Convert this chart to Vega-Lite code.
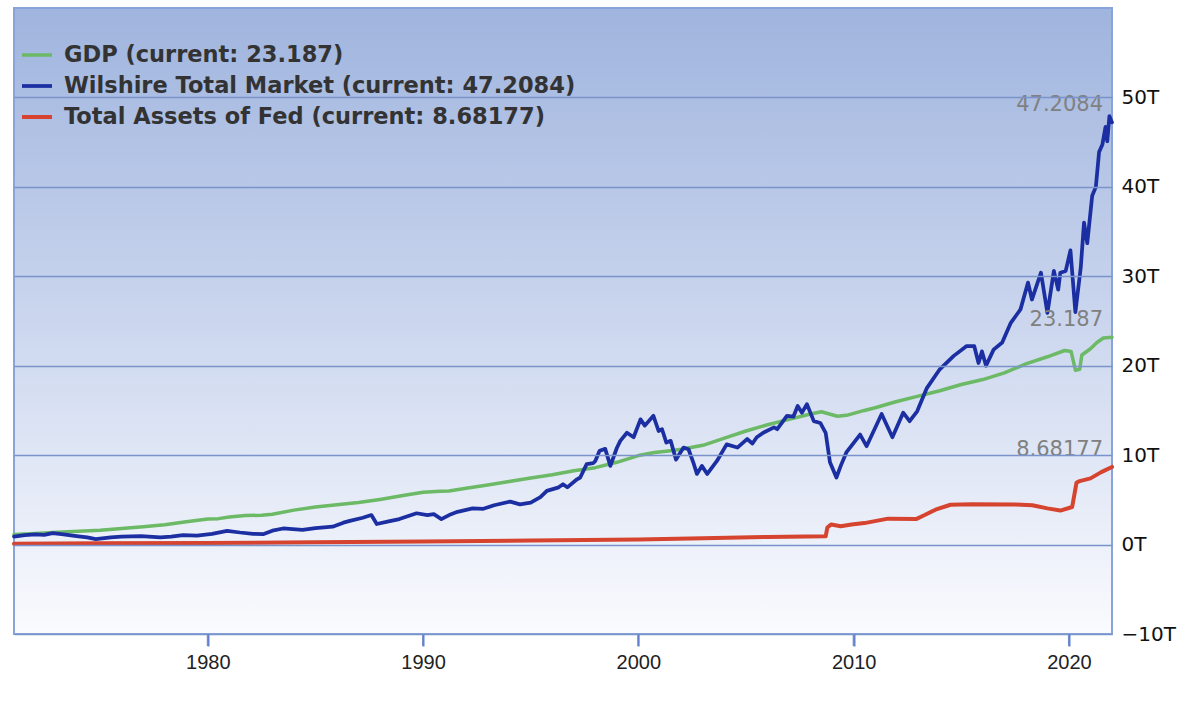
{
  "$schema": "https://vega.github.io/schema/vega-lite/v6.json",
  "width": 1098,
  "height": 626,
  "autosize": {"type": "none"},
  "padding": {"left": 14, "top": 8, "right": 90, "bottom": 72},
  "background": "white",
  "config": {
    "view": {"stroke": null},
    "legend": {"padding": 0},
    "axisX": {"ticks": true, "tickColor": "#6482cc", "tickSize": 12, "tickWidth": 2, "tickOpacity": 1, "domain": false, "grid": false}
  },
  "data": {
    "values": [
      {"s": "GDP", "year": 1971.0, "value": 1.12},
      {"s": "GDP", "year": 1972.0, "value": 1.23},
      {"s": "GDP", "year": 1973.0, "value": 1.38},
      {"s": "GDP", "year": 1974.0, "value": 1.5},
      {"s": "GDP", "year": 1975.0, "value": 1.6},
      {"s": "GDP", "year": 1976.0, "value": 1.8},
      {"s": "GDP", "year": 1977.0, "value": 1.99},
      {"s": "GDP", "year": 1978.0, "value": 2.22},
      {"s": "GDP", "year": 1979.0, "value": 2.55},
      {"s": "GDP", "year": 1980.0, "value": 2.85},
      {"s": "GDP", "year": 1980.5, "value": 2.9},
      {"s": "GDP", "year": 1981.0, "value": 3.08},
      {"s": "GDP", "year": 1981.75, "value": 3.24},
      {"s": "GDP", "year": 1982.5, "value": 3.28},
      {"s": "GDP", "year": 1983.0, "value": 3.4},
      {"s": "GDP", "year": 1984.0, "value": 3.85},
      {"s": "GDP", "year": 1985.0, "value": 4.2},
      {"s": "GDP", "year": 1986.0, "value": 4.45},
      {"s": "GDP", "year": 1987.0, "value": 4.7},
      {"s": "GDP", "year": 1988.0, "value": 5.05},
      {"s": "GDP", "year": 1989.0, "value": 5.45},
      {"s": "GDP", "year": 1990.0, "value": 5.85},
      {"s": "GDP", "year": 1990.8, "value": 5.97},
      {"s": "GDP", "year": 1991.2, "value": 6.0},
      {"s": "GDP", "year": 1992.0, "value": 6.3},
      {"s": "GDP", "year": 1993.0, "value": 6.65},
      {"s": "GDP", "year": 1994.0, "value": 7.05},
      {"s": "GDP", "year": 1995.0, "value": 7.45},
      {"s": "GDP", "year": 1996.0, "value": 7.8},
      {"s": "GDP", "year": 1997.0, "value": 8.25},
      {"s": "GDP", "year": 1998.0, "value": 8.6},
      {"s": "GDP", "year": 1999.0, "value": 9.2},
      {"s": "GDP", "year": 2000.0, "value": 9.95},
      {"s": "GDP", "year": 2000.75, "value": 10.3},
      {"s": "GDP", "year": 2001.5, "value": 10.5},
      {"s": "GDP", "year": 2002.0, "value": 10.65},
      {"s": "GDP", "year": 2003.0, "value": 11.1},
      {"s": "GDP", "year": 2004.0, "value": 11.9},
      {"s": "GDP", "year": 2005.0, "value": 12.7},
      {"s": "GDP", "year": 2006.0, "value": 13.4},
      {"s": "GDP", "year": 2007.0, "value": 14.0},
      {"s": "GDP", "year": 2008.0, "value": 14.6},
      {"s": "GDP", "year": 2008.5, "value": 14.85},
      {"s": "GDP", "year": 2009.25, "value": 14.35},
      {"s": "GDP", "year": 2009.75, "value": 14.5},
      {"s": "GDP", "year": 2010.5, "value": 15.0},
      {"s": "GDP", "year": 2011.0, "value": 15.3},
      {"s": "GDP", "year": 2012.0, "value": 16.0},
      {"s": "GDP", "year": 2013.0, "value": 16.6},
      {"s": "GDP", "year": 2014.0, "value": 17.2},
      {"s": "GDP", "year": 2015.0, "value": 17.9},
      {"s": "GDP", "year": 2016.0, "value": 18.45},
      {"s": "GDP", "year": 2017.0, "value": 19.2},
      {"s": "GDP", "year": 2018.0, "value": 20.2},
      {"s": "GDP", "year": 2019.0, "value": 21.0},
      {"s": "GDP", "year": 2019.8, "value": 21.7},
      {"s": "GDP", "year": 2020.1, "value": 21.6},
      {"s": "GDP", "year": 2020.3, "value": 19.5},
      {"s": "GDP", "year": 2020.5, "value": 19.6},
      {"s": "GDP", "year": 2020.6, "value": 21.2},
      {"s": "GDP", "year": 2021.0, "value": 21.9},
      {"s": "GDP", "year": 2021.3, "value": 22.6},
      {"s": "GDP", "year": 2021.6, "value": 23.1},
      {"s": "GDP", "year": 2022.0, "value": 23.187},

      {"s": "Wilshire Total Market", "year": 1971.0, "value": 0.9},
      {"s": "Wilshire Total Market", "year": 1971.5, "value": 1.05},
      {"s": "Wilshire Total Market", "year": 1972.0, "value": 1.15},
      {"s": "Wilshire Total Market", "year": 1972.4, "value": 1.08},
      {"s": "Wilshire Total Market", "year": 1972.8, "value": 1.28},
      {"s": "Wilshire Total Market", "year": 1973.3, "value": 1.15},
      {"s": "Wilshire Total Market", "year": 1973.9, "value": 0.95},
      {"s": "Wilshire Total Market", "year": 1974.4, "value": 0.8},
      {"s": "Wilshire Total Market", "year": 1974.8, "value": 0.6},
      {"s": "Wilshire Total Market", "year": 1975.5, "value": 0.8},
      {"s": "Wilshire Total Market", "year": 1976.0, "value": 0.9},
      {"s": "Wilshire Total Market", "year": 1976.9, "value": 0.95},
      {"s": "Wilshire Total Market", "year": 1977.8, "value": 0.8},
      {"s": "Wilshire Total Market", "year": 1978.3, "value": 0.88},
      {"s": "Wilshire Total Market", "year": 1978.85, "value": 1.06},
      {"s": "Wilshire Total Market", "year": 1979.5, "value": 1.0},
      {"s": "Wilshire Total Market", "year": 1980.2, "value": 1.2},
      {"s": "Wilshire Total Market", "year": 1980.9, "value": 1.54},
      {"s": "Wilshire Total Market", "year": 1981.5, "value": 1.35},
      {"s": "Wilshire Total Market", "year": 1982.1, "value": 1.2},
      {"s": "Wilshire Total Market", "year": 1982.6, "value": 1.17},
      {"s": "Wilshire Total Market", "year": 1983.0, "value": 1.55},
      {"s": "Wilshire Total Market", "year": 1983.5, "value": 1.8},
      {"s": "Wilshire Total Market", "year": 1984.4, "value": 1.65},
      {"s": "Wilshire Total Market", "year": 1985.0, "value": 1.85},
      {"s": "Wilshire Total Market", "year": 1985.8, "value": 2.0},
      {"s": "Wilshire Total Market", "year": 1986.3, "value": 2.45},
      {"s": "Wilshire Total Market", "year": 1986.6, "value": 2.65},
      {"s": "Wilshire Total Market", "year": 1987.2, "value": 3.0},
      {"s": "Wilshire Total Market", "year": 1987.6, "value": 3.3},
      {"s": "Wilshire Total Market", "year": 1987.85, "value": 2.3},
      {"s": "Wilshire Total Market", "year": 1988.4, "value": 2.6},
      {"s": "Wilshire Total Market", "year": 1988.9, "value": 2.85},
      {"s": "Wilshire Total Market", "year": 1989.7, "value": 3.5},
      {"s": "Wilshire Total Market", "year": 1990.2, "value": 3.3},
      {"s": "Wilshire Total Market", "year": 1990.5, "value": 3.4},
      {"s": "Wilshire Total Market", "year": 1990.85, "value": 2.85},
      {"s": "Wilshire Total Market", "year": 1991.3, "value": 3.4},
      {"s": "Wilshire Total Market", "year": 1991.6, "value": 3.66},
      {"s": "Wilshire Total Market", "year": 1992.3, "value": 4.04},
      {"s": "Wilshire Total Market", "year": 1992.8, "value": 4.0},
      {"s": "Wilshire Total Market", "year": 1993.3, "value": 4.4},
      {"s": "Wilshire Total Market", "year": 1994.05, "value": 4.8},
      {"s": "Wilshire Total Market", "year": 1994.5, "value": 4.5},
      {"s": "Wilshire Total Market", "year": 1995.0, "value": 4.7},
      {"s": "Wilshire Total Market", "year": 1995.45, "value": 5.3},
      {"s": "Wilshire Total Market", "year": 1995.75, "value": 6.0},
      {"s": "Wilshire Total Market", "year": 1996.3, "value": 6.4},
      {"s": "Wilshire Total Market", "year": 1996.5, "value": 6.75},
      {"s": "Wilshire Total Market", "year": 1996.7, "value": 6.4},
      {"s": "Wilshire Total Market", "year": 1997.15, "value": 7.3},
      {"s": "Wilshire Total Market", "year": 1997.3, "value": 7.5},
      {"s": "Wilshire Total Market", "year": 1997.6, "value": 9.0},
      {"s": "Wilshire Total Market", "year": 1997.9, "value": 9.1},
      {"s": "Wilshire Total Market", "year": 1998.0, "value": 9.35},
      {"s": "Wilshire Total Market", "year": 1998.2, "value": 10.5},
      {"s": "Wilshire Total Market", "year": 1998.46, "value": 10.7},
      {"s": "Wilshire Total Market", "year": 1998.7, "value": 8.8},
      {"s": "Wilshire Total Market", "year": 1999.0, "value": 10.8},
      {"s": "Wilshire Total Market", "year": 1999.16, "value": 11.6},
      {"s": "Wilshire Total Market", "year": 1999.47, "value": 12.5},
      {"s": "Wilshire Total Market", "year": 1999.78, "value": 12.0},
      {"s": "Wilshire Total Market", "year": 2000.1, "value": 14.0},
      {"s": "Wilshire Total Market", "year": 2000.3, "value": 13.3},
      {"s": "Wilshire Total Market", "year": 2000.7, "value": 14.4},
      {"s": "Wilshire Total Market", "year": 2000.94, "value": 12.7},
      {"s": "Wilshire Total Market", "year": 2001.1, "value": 12.9},
      {"s": "Wilshire Total Market", "year": 2001.3, "value": 11.4},
      {"s": "Wilshire Total Market", "year": 2001.5, "value": 11.6},
      {"s": "Wilshire Total Market", "year": 2001.75, "value": 9.5},
      {"s": "Wilshire Total Market", "year": 2002.1, "value": 10.85},
      {"s": "Wilshire Total Market", "year": 2002.33, "value": 10.66},
      {"s": "Wilshire Total Market", "year": 2002.55, "value": 9.2},
      {"s": "Wilshire Total Market", "year": 2002.72, "value": 7.9},
      {"s": "Wilshire Total Market", "year": 2002.95, "value": 8.8},
      {"s": "Wilshire Total Market", "year": 2003.2, "value": 7.9},
      {"s": "Wilshire Total Market", "year": 2003.65, "value": 9.35},
      {"s": "Wilshire Total Market", "year": 2004.1, "value": 11.2},
      {"s": "Wilshire Total Market", "year": 2004.6, "value": 10.85},
      {"s": "Wilshire Total Market", "year": 2005.05, "value": 11.8},
      {"s": "Wilshire Total Market", "year": 2005.3, "value": 11.3},
      {"s": "Wilshire Total Market", "year": 2005.5, "value": 12.0},
      {"s": "Wilshire Total Market", "year": 2005.8, "value": 12.5},
      {"s": "Wilshire Total Market", "year": 2006.3, "value": 13.1},
      {"s": "Wilshire Total Market", "year": 2006.45, "value": 12.9},
      {"s": "Wilshire Total Market", "year": 2006.9, "value": 14.4},
      {"s": "Wilshire Total Market", "year": 2007.2, "value": 14.3},
      {"s": "Wilshire Total Market", "year": 2007.4, "value": 15.5},
      {"s": "Wilshire Total Market", "year": 2007.6, "value": 14.75},
      {"s": "Wilshire Total Market", "year": 2007.83, "value": 15.7},
      {"s": "Wilshire Total Market", "year": 2008.15, "value": 13.8},
      {"s": "Wilshire Total Market", "year": 2008.45, "value": 13.6},
      {"s": "Wilshire Total Market", "year": 2008.7, "value": 12.5},
      {"s": "Wilshire Total Market", "year": 2008.9, "value": 9.2},
      {"s": "Wilshire Total Market", "year": 2009.2, "value": 7.5},
      {"s": "Wilshire Total Market", "year": 2009.4, "value": 8.8},
      {"s": "Wilshire Total Market", "year": 2009.66, "value": 10.3},
      {"s": "Wilshire Total Market", "year": 2010.3, "value": 12.3},
      {"s": "Wilshire Total Market", "year": 2010.6, "value": 11.0},
      {"s": "Wilshire Total Market", "year": 2011.3, "value": 14.6},
      {"s": "Wilshire Total Market", "year": 2011.8, "value": 12.0},
      {"s": "Wilshire Total Market", "year": 2012.3, "value": 14.75},
      {"s": "Wilshire Total Market", "year": 2012.6, "value": 13.8},
      {"s": "Wilshire Total Market", "year": 2012.95, "value": 14.9},
      {"s": "Wilshire Total Market", "year": 2013.4, "value": 17.5},
      {"s": "Wilshire Total Market", "year": 2014.0, "value": 19.6},
      {"s": "Wilshire Total Market", "year": 2014.65, "value": 21.1},
      {"s": "Wilshire Total Market", "year": 2015.25, "value": 22.2},
      {"s": "Wilshire Total Market", "year": 2015.6, "value": 22.2},
      {"s": "Wilshire Total Market", "year": 2015.8, "value": 20.3},
      {"s": "Wilshire Total Market", "year": 2015.96, "value": 21.6},
      {"s": "Wilshire Total Market", "year": 2016.15, "value": 20.0},
      {"s": "Wilshire Total Market", "year": 2016.5, "value": 21.8},
      {"s": "Wilshire Total Market", "year": 2016.9, "value": 22.6},
      {"s": "Wilshire Total Market", "year": 2017.3, "value": 24.8},
      {"s": "Wilshire Total Market", "year": 2017.75, "value": 26.3},
      {"s": "Wilshire Total Market", "year": 2018.1, "value": 29.3},
      {"s": "Wilshire Total Market", "year": 2018.28, "value": 27.4},
      {"s": "Wilshire Total Market", "year": 2018.7, "value": 30.4},
      {"s": "Wilshire Total Market", "year": 2019.0, "value": 25.9},
      {"s": "Wilshire Total Market", "year": 2019.3, "value": 30.6},
      {"s": "Wilshire Total Market", "year": 2019.5, "value": 28.5},
      {"s": "Wilshire Total Market", "year": 2019.6, "value": 30.4},
      {"s": "Wilshire Total Market", "year": 2019.85, "value": 30.6},
      {"s": "Wilshire Total Market", "year": 2020.07, "value": 32.9},
      {"s": "Wilshire Total Market", "year": 2020.3, "value": 26.0},
      {"s": "Wilshire Total Market", "year": 2020.55, "value": 31.0},
      {"s": "Wilshire Total Market", "year": 2020.7, "value": 36.0},
      {"s": "Wilshire Total Market", "year": 2020.85, "value": 33.7},
      {"s": "Wilshire Total Market", "year": 2021.08, "value": 39.0},
      {"s": "Wilshire Total Market", "year": 2021.25, "value": 40.0},
      {"s": "Wilshire Total Market", "year": 2021.4, "value": 43.9},
      {"s": "Wilshire Total Market", "year": 2021.55, "value": 44.7},
      {"s": "Wilshire Total Market", "year": 2021.7, "value": 46.7},
      {"s": "Wilshire Total Market", "year": 2021.78, "value": 45.1},
      {"s": "Wilshire Total Market", "year": 2021.88, "value": 47.9},
      {"s": "Wilshire Total Market", "year": 2022.0, "value": 47.2084},

      {"s": "Total Assets of Fed", "year": 1971.0, "value": 0.1},
      {"s": "Total Assets of Fed", "year": 1975.0, "value": 0.14},
      {"s": "Total Assets of Fed", "year": 1980.0, "value": 0.18},
      {"s": "Total Assets of Fed", "year": 1985.0, "value": 0.25},
      {"s": "Total Assets of Fed", "year": 1990.0, "value": 0.33},
      {"s": "Total Assets of Fed", "year": 1995.0, "value": 0.45},
      {"s": "Total Assets of Fed", "year": 2000.0, "value": 0.58},
      {"s": "Total Assets of Fed", "year": 2003.0, "value": 0.72},
      {"s": "Total Assets of Fed", "year": 2006.0, "value": 0.85},
      {"s": "Total Assets of Fed", "year": 2008.7, "value": 0.92},
      {"s": "Total Assets of Fed", "year": 2008.78, "value": 1.9},
      {"s": "Total Assets of Fed", "year": 2008.95, "value": 2.25},
      {"s": "Total Assets of Fed", "year": 2009.4, "value": 2.05},
      {"s": "Total Assets of Fed", "year": 2009.9, "value": 2.25},
      {"s": "Total Assets of Fed", "year": 2010.5, "value": 2.4},
      {"s": "Total Assets of Fed", "year": 2011.6, "value": 2.9},
      {"s": "Total Assets of Fed", "year": 2012.9, "value": 2.85},
      {"s": "Total Assets of Fed", "year": 2013.3, "value": 3.3},
      {"s": "Total Assets of Fed", "year": 2013.8, "value": 3.9},
      {"s": "Total Assets of Fed", "year": 2014.5, "value": 4.45},
      {"s": "Total Assets of Fed", "year": 2015.5, "value": 4.5},
      {"s": "Total Assets of Fed", "year": 2017.5, "value": 4.48},
      {"s": "Total Assets of Fed", "year": 2018.3, "value": 4.4},
      {"s": "Total Assets of Fed", "year": 2019.0, "value": 4.05},
      {"s": "Total Assets of Fed", "year": 2019.6, "value": 3.8},
      {"s": "Total Assets of Fed", "year": 2020.15, "value": 4.2},
      {"s": "Total Assets of Fed", "year": 2020.35, "value": 6.9},
      {"s": "Total Assets of Fed", "year": 2020.5, "value": 7.1},
      {"s": "Total Assets of Fed", "year": 2021.0, "value": 7.4},
      {"s": "Total Assets of Fed", "year": 2021.5, "value": 8.1},
      {"s": "Total Assets of Fed", "year": 2022.0, "value": 8.68177}
    ]
  },
  "layer": [
    {
      "mark": {
        "type": "rect",
        "fill": {
          "gradient": "linear", "x1": 0, "y1": 0, "x2": 0, "y2": 1,
          "stops": [
            {"offset": 0, "color": "#9fb4de"},
            {"offset": 0.5, "color": "#cbd6ee"},
            {"offset": 1, "color": "#fafbfe"}
          ]
        },
        "stroke": "#89a4da",
        "strokeWidth": 2
      },
      "encoding": {
        "x": {
          "datum": 1971, "type": "quantitative",
          "axis": {
            "values": [1980, 1990, 2000, 2010, 2020], "format": "d", "title": null,
            "grid": false, "domain": false, "ticks": true,
            "tickColor": "#6482cc", "tickSize": 12, "tickWidth": 2,
            "labelFont": "Liberation Sans", "labelFontSize": 20, "labelColor": "#222222", "labelPadding": 6,
            "zindex": 1
          }
        },
        "x2": {"datum": 2022},
        "y": {"datum": -10, "type": "quantitative"},
        "y2": {"datum": 60}
      }
    },
    {
      "data": {"values": [{"tick": 1980}, {"tick": 1990}, {"tick": 2000}, {"tick": 2010}, {"tick": 2020}]},
      "mark": {"type": "rule", "color": "#7d98d4", "strokeWidth": 2, "y2Offset": 12},
      "encoding": {
        "x": {"field": "tick", "type": "quantitative"},
        "y": {"datum": -10, "type": "quantitative"},
        "y2": {"datum": -10}
      }
    },
    {
      "mark": {"type": "line", "strokeJoin": "round", "strokeCap": "round"},
      "encoding": {
        "x": {
          "field": "year", "type": "quantitative",
          "scale": {"domain": [1971, 2022], "nice": false, "zero": false},
          "axis": {
            "values": [1980, 1990, 2000, 2010, 2020], "format": "d", "title": null,
            "grid": false, "domain": false, "ticks": true,
            "tickColor": "#6482cc", "tickSize": 12, "tickWidth": 2,
            "labelFont": "Liberation Sans", "labelFontSize": 20, "labelColor": "#222222", "labelPadding": 6,
            "zindex": 1
          }
        },
        "y": {
          "field": "value", "type": "quantitative",
          "scale": {"domain": [-10, 60], "nice": false, "zero": false},
          "axis": {
            "orient": "right", "values": [-10, 0, 10, 20, 30, 40, 50],
            "labelExpr": "(datum.value < 0 ? '−' : '') + abs(datum.value) + 'T'",
            "title": null, "grid": true, "gridColor": "#7a93cb", "gridWidth": 1.5,
            "domain": false, "ticks": false,
            "labelFont": "DejaVu Sans", "labelFontSize": 20, "labelColor": "#111111", "labelPadding": 9,
            "zindex": 1
          }
        },
        "color": {
          "field": "s", "type": "nominal",
          "scale": {
            "domain": ["GDP", "Wilshire Total Market", "Total Assets of Fed"],
            "range": ["#6cb966", "#1b2fa2", "#d6432f"]
          },
          "legend": {
            "title": null, "orient": "none", "legendX": 6, "legendY": 30,
            "symbolType": "stroke", "symbolSize": 900, "symbolStrokeWidth": 3.5,
            "labelFont": "DejaVu Sans", "labelFontWeight": "bold", "labelFontSize": 22.5,
            "labelColor": "#333333", "labelLimit": 800, "rowPadding": 2, "labelOffset": 10,
            "labelExpr": "datum.label == 'GDP' ? 'GDP (current: 23.187)' : datum.label == 'Wilshire Total Market' ? 'Wilshire Total Market (current: 47.2084)' : 'Total Assets of Fed (current: 8.68177)'"
          }
        },
        "strokeWidth": {
          "field": "s", "type": "nominal",
          "scale": {
            "domain": ["GDP", "Wilshire Total Market", "Total Assets of Fed"],
            "range": [3.5, 4, 4]
          },
          "legend": null
        }
      }
    },
    {
      "transform": [{"filter": "datum.year == 2022"}],
      "mark": {
        "type": "text", "align": "right", "baseline": "bottom", "dx": -9, "dy": -7,
        "font": "DejaVu Sans", "fontSize": 21, "fill": "#808080"
      },
      "encoding": {
        "x": {"field": "year", "type": "quantitative"},
        "y": {"field": "value", "type": "quantitative"},
        "text": {"field": "value", "type": "nominal"}
      }
    }
  ]
}
